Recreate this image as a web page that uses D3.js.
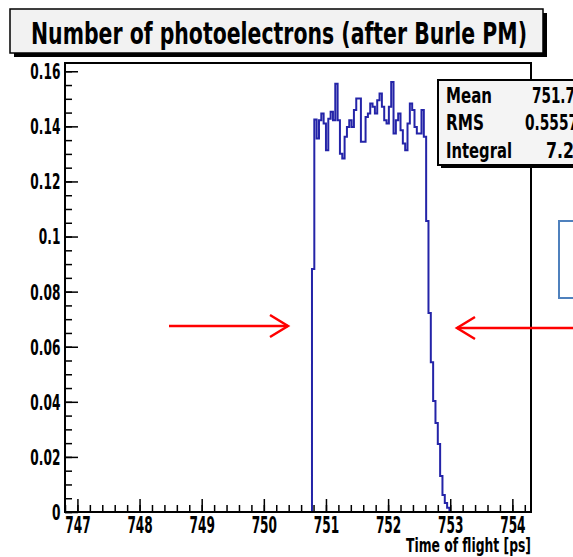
<!DOCTYPE html>
<html><head><meta charset="utf-8">
<script src="https://cdn.jsdelivr.net/npm/d3@7"></script>
<style>
html,body{margin:0;padding:0;background:#fff;}
svg{display:block;}
text{font-family:"Liberation Sans Narrow","DejaVu Sans Condensed","Arial Narrow",sans-serif;font-weight:bold;fill:#000;}
</style></head>
<body>
<svg id="c" width="573" height="557"></svg>
<script>
// ---- data ----
const titleText = "Number of photoelectrons (after Burle PM)";
const xAxisTitle = "Time of flight [ps]";
const xRange = [746.8, 754.3];
const nBins = 200;
const firstBin = 106;
const binValues = [
  0.0882,
  0.1425,0.1356,0.1422,0.1447,0.1410,0.1313,0.1428,0.1453,0.1422,0.1555,
  0.1422,0.1301,0.1283,0.1362,0.1398,0.1422,0.1398,0.1459,0.1501,0.1501,
  0.1344,0.1344,0.1434,0.1447,0.1483,0.1471,0.1447,0.1495,0.1519,0.1471,
  0.1422,0.1410,0.1471,0.1561,0.1374,0.1422,0.1447,0.1386,0.1338,0.1313,
  0.1410,0.1483,0.1459,0.1398,0.1374,0.1374,0.1459,0.1362,
  0.1056,0.0722,0.0544,0.0403,0.0323,0.0247,0.0131,0.0062,0.0033,0.0015
];
const yMax = 0.163;
const xTickValues = [747,748,749,750,751,752,753,754];
const xTickLabels = ["747","748","749","750","751","752","753","754"];
const yTickValues = [0,0.02,0.04,0.06,0.08,0.1,0.12,0.14,0.16];
const yTickLabels = ["0","0.02","0.04","0.06","0.08","0.1","0.12","0.14","0.16"];
const statNames = ["Mean","RMS","Integral"];
const statValues = ["751.7","0.5557","7.2"];

// ---- layout ----
const svg = d3.select("#c");
const L = 65, R = 531, T = 63, B = 512;
const x = d3.scaleLinear().domain(xRange).range([L, R]);
const y = d3.scaleLinear().domain([0, yMax]).range([B, T]);

function fitText(str, x0, y0, size, width) {
  return svg.append("text").attr("x", x0).attr("y", y0).attr("font-size", size)
    .attr("textLength", width).attr("lengthAdjust", "spacingAndGlyphs").text(str);
}

// title box
svg.append("rect").attr("x",14).attr("y",13).attr("width",533).attr("height",44).attr("fill","#000");
svg.append("rect").attr("x",10).attr("y",9).attr("width",533).attr("height",44)
  .attr("fill","#f2f2f2").attr("stroke","#000").attr("stroke-width",1.5);
fitText(titleText, 31, 44, 31, 496);

// histogram
const bw = (xRange[1]-xRange[0])/nBins;
const lowEdge = i => xRange[0] + i*bw;
let p = d3.path();
p.moveTo(x(lowEdge(firstBin)), y(0));
binValues.forEach((v,k)=>{
  const i = firstBin + k;
  p.lineTo(x(lowEdge(i)), y(v));
  p.lineTo(x(lowEdge(i+1)), y(v));
});
p.lineTo(x(lowEdge(firstBin+binValues.length)), y(0));
p.lineTo(x(xRange[1]), y(0));
svg.append("path").attr("d",p.toString()).attr("fill","none")
  .attr("stroke","#2424a8").attr("stroke-width",2).attr("stroke-linejoin","miter");

// frame
svg.append("rect").attr("x",L).attr("y",T).attr("width",R-L).attr("height",B-T)
  .attr("fill","none").attr("stroke","#000").attr("stroke-width",2);

const tickFont = '"Liberation Sans Narrow","DejaVu Sans Condensed",sans-serif';
// x axis
const xMinor = d3.range(0, 38).map(i => xRange[0] + i*0.2).filter(v => v <= xRange[1]+1e-9);
svg.append("g").attr("transform",`translate(0,${B})`)
  .call(d3.axisBottom(x).tickValues(xMinor).tickSize(-7).tickFormat(""))
  .call(g=>{g.select(".domain").remove(); g.selectAll("line").attr("stroke","#000").attr("stroke-width",1.5);});
const gx = svg.append("g").attr("transform",`translate(0,${B})`)
  .call(d3.axisBottom(x).tickValues(xTickValues).tickSize(-13).tickPadding(6)
    .tickFormat((d,i)=>xTickLabels[i]));
gx.select(".domain").remove();
gx.selectAll("line").attr("stroke","#000").attr("stroke-width",1.5);
gx.selectAll("text").attr("font-size",22.5).attr("dy",null).attr("y",20.5)
  .attr("transform","scale(0.6,1)")
  .style("font-family",tickFont).style("font-weight","bold");

// y axis
const yMinor = d3.range(0, 33).map(i => i*0.005).filter(v => v <= yMax);
svg.append("g").attr("transform",`translate(${L},0)`)
  .call(d3.axisLeft(y).tickValues(yMinor).tickSize(-7).tickFormat(""))
  .call(g=>{g.select(".domain").remove(); g.selectAll("line").attr("stroke","#000").attr("stroke-width",1.5);});
const gy = svg.append("g").attr("transform",`translate(${L},0)`)
  .call(d3.axisLeft(y).tickValues(yTickValues).tickSize(-13).tickPadding(4)
    .tickFormat((d,i)=>yTickLabels[i]));
gy.select(".domain").remove();
gy.selectAll("line").attr("stroke","#000").attr("stroke-width",1.5);
gy.selectAll("text").attr("font-size",20.5).attr("x",-7).attr("dy","0.36em")
  .attr("transform","scale(0.66,1)")
  .style("font-family",tickFont).style("font-weight","bold");

// x axis title
fitText(xAxisTitle, 406, 551.5, 20, 125);

// stats box
svg.append("rect").attr("x",441).attr("y",83).attr("width",140).attr("height",85).attr("fill","#000");
svg.append("rect").attr("x",438).attr("y",80).attr("width",140).attr("height",85)
  .attr("fill","#f4f4f4").attr("stroke","#000").attr("stroke-width",2);
const nameW = [46, 38, 66];
const valX = [532, 525, 546];
const valW = [43, 53, 28];
statNames.forEach((n,i)=>{
  fitText(n, 446, 102.5+i*27.5, 20.5, nameW[i]);
  fitText(statValues[i], valX[i], 102.5+i*27.5, 20.5, valW[i]);
});

// annotation: blue box
svg.append("rect").attr("x",559).attr("y",221).attr("width",40).attr("height",77)
  .attr("fill","none").attr("stroke","#4f81bd").attr("stroke-width",2);

// red arrows
const red = "#ff0000";
svg.append("line").attr("x1",169).attr("y1",326).attr("x2",288).attr("y2",326).attr("stroke",red).attr("stroke-width",2.5);
svg.append("polyline").attr("points","270,315 288,326 270,337").attr("fill","none").attr("stroke",red).attr("stroke-width",2.5);
svg.append("line").attr("x1",575).attr("y1",328).attr("x2",457).attr("y2",328).attr("stroke",red).attr("stroke-width",2.5);
svg.append("polyline").attr("points","475,317 457,328 475,339").attr("fill","none").attr("stroke",red).attr("stroke-width",2.5);
</script>
</body></html>
